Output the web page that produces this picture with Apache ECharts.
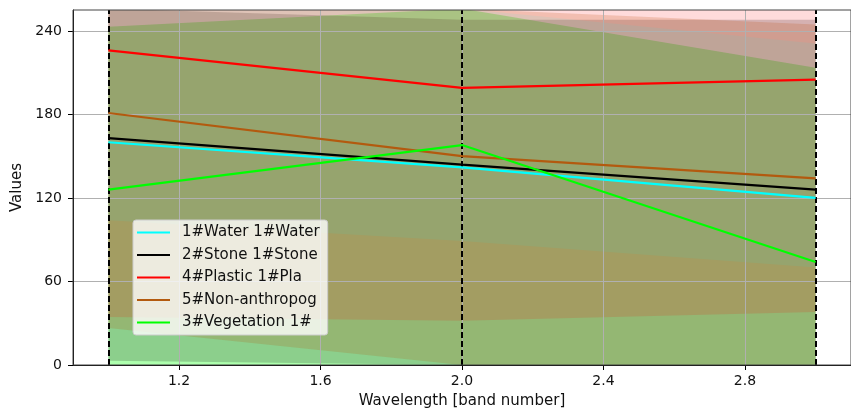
<!DOCTYPE html>
<html>
<head>
<meta charset="utf-8">
<script src="https://cdn.jsdelivr.net/npm/echarts@6/dist/echarts.min.js"></script>
<style>
  html, body { margin: 0; padding: 0; background: #fff; }
  #chart { width: 851px; height: 414px; }
</style>
</head>
<body>
<div id="chart"></div>
<script>
// Band positions (x) shared by every class
const bands = [1, 2, 3];
const xTicks = [1.2, 1.6, 2.0, 2.4, 2.8];
const yTicks = [0, 60, 120, 180, 240];

// Mean values per class
const waterMean = [160, 142, 120];
const stoneMean = [163, 144, 126];
const plasticMean = [226, 199, 205];
const nonAnthroMean = [181, 150, 134];
const vegetationMean = [126, 158, 74];

// Spread envelopes per class (lower / upper)
const waterLow = [104, 89, 70];
const waterHigh = [256, 256, 231];
const stoneLow = [3, 0, 0];
const stoneHigh = [256, 248, 248];
const plasticLow = [34.4, 31.8, 38];
const plasticHigh = [256, 256, 256];
const nonAnthroLow = [26.5, 0, 0];
const nonAnthroHigh = [256, 256, 244.5];
const vegetationLow = [0, 0, 0];
const vegetationHigh = [243, 256, 213.5];

const names = ['1#Water 1#Water', '2#Stone 1#Stone', '4#Plastic 1#Pla', '5#Non-anthropog', '3#Vegetation 1#'];
const colors = ['#00ffff', '#000000', '#ff0000', '#b35a0f', '#00ff00'];

const font = 'DejaVu Sans';

// Filled envelope between a lower and an upper curve
function bandSeries(id, lo, hi, color, opacity) {
  return {
    name: id, type: 'custom', z: 2, silent: true, clip: true,
    data: bands.map((x, i) => [x, lo[i], hi[i]]),
    encode: { x: 0, y: [1, 2] },
    renderItem: (params, api) => {
      if (params.dataIndex !== 0) return null;
      const pts = [];
      for (let i = 0; i < bands.length; i++) pts.push(api.coord([bands[i], lo[i]]));
      for (let i = bands.length - 1; i >= 0; i--) pts.push(api.coord([bands[i], hi[i]]));
      return {
        type: 'polygon',
        shape: { points: pts },
        style: { fill: color, opacity: opacity, stroke: null }
      };
    }
  };
}

function meanSeries(name, values, color) {
  return {
    name: name, type: 'line', z: 10, color: color,
    symbol: 'none', showSymbol: false,
    lineStyle: { color: color, width: 2.2 },
    data: bands.map((x, i) => [x, values[i]])
  };
}

const series = [
  bandSeries('veg', vegetationLow, vegetationHigh, colors[4], 0.32),
  bandSeries('stone', stoneLow, stoneHigh, colors[1], 0.19),
  bandSeries('non', nonAnthroLow, nonAnthroHigh, colors[3], 0.2),
  bandSeries('plastic', plasticLow, plasticHigh, colors[2], 0.14),
  bandSeries('water', waterLow, waterHigh, colors[0], 0.08),
  meanSeries(names[0], waterMean, colors[0]),
  meanSeries(names[1], stoneMean, colors[1]),
  meanSeries(names[2], plasticMean, colors[2]),
  meanSeries(names[3], nonAnthroMean, colors[3]),
  meanSeries(names[4], vegetationMean, colors[4]),
  {
    name: 'guides', type: 'line', z: 12, data: [], silent: true,
    markLine: {
      silent: true, symbol: 'none', animation: false,
      label: { show: false },
      lineStyle: { color: '#000', type: [6, 3], width: 2 },
      data: bands.map(x => ({ xAxis: x }))
    }
  }
];

const chart = echarts.init(document.getElementById('chart'), null, { renderer: 'canvas' });
chart.setOption({
  animation: false,
  backgroundColor: '#fff',
  textStyle: { fontFamily: font },
  grid: {
    left: 73, top: 10, right: -7, bottom: 48,
    show: true, borderColor: '#444', borderWidth: 1, z: 6
  },
  legend: {
    orient: 'vertical', left: 133, top: 220, z: 20,
    data: names.map((n, i) => ({ name: n, itemStyle: { color: colors[i] } })),
    icon: 'rect', itemWidth: 33, itemHeight: 2, itemGap: 7.5,
    padding: [5, 8, 5, 4],
    backgroundColor: 'rgba(255,255,255,0.8)',
    borderColor: '#cccccc', borderWidth: 1, borderRadius: 3,
    textStyle: { fontFamily: font, fontSize: 15, color: '#111', lineHeight: 15, padding: [0, 0, 0, 7] }
  },
  xAxis: {
    type: 'value', min: 0.9, max: 3.1, z: 5,
    name: 'Wavelength [band number]', nameLocation: 'middle', nameGap: 29,
    nameTextStyle: { fontFamily: font, fontSize: 15, color: '#111' },
    axisLine: { lineStyle: { color: '#000', width: 1 } },
    axisTick: { length: 5, lineStyle: { color: '#000' }, customValues: xTicks },
    axisLabel: { fontFamily: font, fontSize: 14, color: '#111', margin: 9, customValues: xTicks,
      formatter: v => v.toFixed(1) },
    splitLine: { show: true, lineStyle: { color: '#b0b0b0', width: 1 } }
  },
  yAxis: {
    type: 'value', min: 0, max: 255, z: 5,
    name: 'Values', nameLocation: 'middle', nameGap: 46,
    nameTextStyle: { fontFamily: font, fontSize: 15, color: '#111' },
    axisLine: { show: true, lineStyle: { color: '#000', width: 1 } },
    axisTick: { show: true, length: 5, lineStyle: { color: '#000' }, customValues: yTicks },
    axisLabel: { fontFamily: font, fontSize: 14, color: '#111', margin: 11, customValues: yTicks },
    splitLine: { show: true, lineStyle: { color: '#b0b0b0', width: 1 } }
  },
  series: series
});
</script>
</body>
</html>
